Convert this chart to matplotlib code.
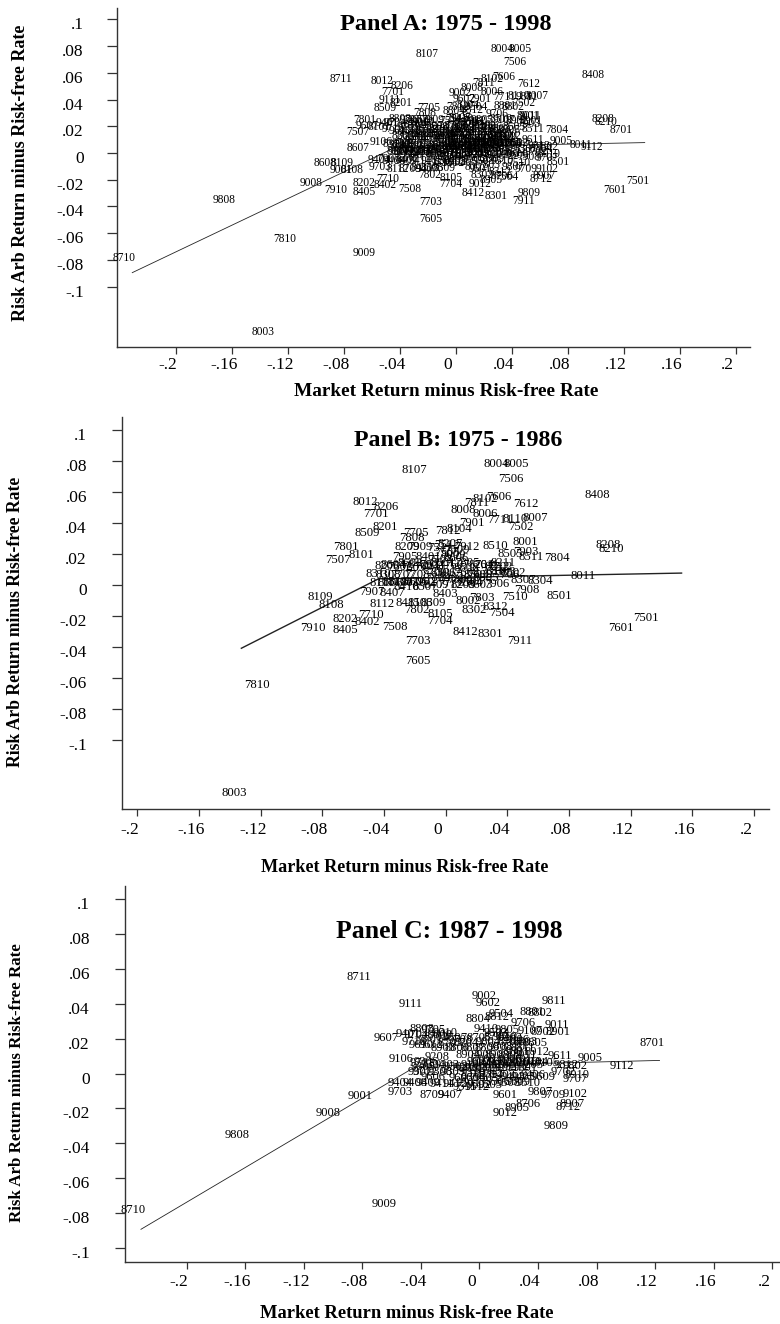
import matplotlib
matplotlib.use('Agg')
import matplotlib.pyplot as plt
from matplotlib.transforms import ScaledTranslation

plt.rcParams['font.family'] = ['Liberation Serif', 'DejaVu Serif']

# month labels and (market, risk arb) excess returns,
# the crowded middle of each cloud is only estimated
months_b = ['8107','8004','8005','7506','8408','8012','8206','7701','7606','8102','7811','7612','8008','8006',
            '7901','7711','8110','8007','7502','8201','8509','7812','8104','7705','7808','8208','8210','7801',
            '8101','7507','8510','8001','7903','8505','8511','7804','7912','8209','7909','8207','7905','8401',
            '8009','8205','8211','8011','8304','8501','7510','7908','7906','8307','8403','8002','7803','8302',
            '8312','7504','7802','8105','7704','8412','8301','7911','7703','7605','7810','8003','7601','7501',
            '8109','8108','8112','8202','7710','8402','7910','8405','7508','7907','8407','8411','8506','8309',
            '8310','8111',
            '7503','7505','7509','7511','7512','7602','7603','7604','7607','7608','7609','7610','7611','7702',
            '7706','7707','7708','7709','7712','7805','7806','7807','7809','7902','7904','8010','8103','8106',
            '8203','8204','8212','8303','8305','8306','8308','8311','8404','8406','8409','8410','8502','8503',
            '8504','8507','8508','8512','8601','8602','8603','8604','8605','8606']
x_b = [-.0203,.0331,.046,.0422,.0984,-.0523,-.0383,-.0452,.0342,.0259,.0201,.0519,.0115,.0259,
       .0169,.0352,.045,.0584,.0489,-.0393,-.0506,.0017,.0089,-.0195,-.022,.1055,.1072,-.0649,
       -.0549,-.0696,.0324,.0519,.0521,.0417,.0553,.072,.0136,-.0253,-.0166,.0028,-.0264,-.0112,
       .005,-.0378,.0374,.0893,.0612,.0735,.045,.0525,.0331,.0504,-.0004,.0147,.0233,.0186,
       .032,.0363,-.0184,-.0032,-.0037,.0125,.0288,.0482,-.0177,-.0179,-.1223,-.1372,.1134,.13,
       -.0811,-.0739,-.0415,-.0653,-.0486,-.0506,-.0858,-.0653,-.0329,-.048,-.0344,-.0242,-.0166,-.008,
       -.0437,-.0415,
       -.0037,.0006,.0071,-.0037,.0006,-.0296,-.021,-.0123,.0071,.0136,.0223,.0309,.0266,.0352,
       .0396,-.0275,-.0188,-.008,.0028,.0136,.0093,.0179,-.0048,-.0145,-.0091,-.021,-.0296,-.0361,
       .0115,.0233,.0331,.0374,.0266,-.0015,-.0372,-.0329,.0039,-.0166,-.0058,-.0253,.0439,.0201,
       .0158,-.0134,.0136,.0028,-.0015,-.0231,.0223,-.0339,-.0188,.0071]
y_b = [.0742,.0778,.0778,.0682,.0581,.0538,.0501,.0458,.057,.0555,.0527,.052,.0484,.0456,
       .0402,.0419,.0426,.043,.0372,.0376,.0338,.0348,.0359,.0338,.0301,.0258,.0232,.0247,
       .0194,.0161,.0254,.0275,.0215,.0198,.0178,.0172,.0243,.0247,.0247,.0265,.0183,.0183,
       .0194,.0125,.014,.0058,.0028,-.0069,-.0075,-.0032,.0006,.0032,-.0058,-.0101,-.0086,-.0161,
       -.014,-.0183,-.0161,-.0187,-.023,-.0301,-.0318,-.0359,-.0363,-.049,-.0645,-.134,-.0275,-.0213,
       -.0075,-.0129,-.0123,-.0222,-.0194,-.0237,-.028,-.029,-.0269,-.0043,-.0054,-.0114,-.0114,-.0114,
       .0069,.0015,
       .0161,.0204,.0226,.0237,.0258,.0118,.0108,.0118,.0129,.0075,.0065,.0086,.0129,.0118,
       .0065,.0065,.0065,.0075,0,.014,.0032,.0022,.0043,.0022,.0129,.0011,.0022,.0011,
       0,.0129,.0118,.0086,.0043,.0075,.0065,.0022,.0043,.0129,0,-.0011,.0075,.0065,
       .0011,-.0011,.0108,.0097,.014,.014,0,.0129,.0022,.0172]

months_c = ['9002','9602','9111','9811','9504','8804','8812','8801','8802','9706','9011','9410','8901','9107',
            '8902','8808','9607','9010','9401','9507','9710','9106','9208','9005','9611','8701','9112','9812',
            '9802','9703','9404','9001','9008','9808','8710','9009','8711','8709','9407','9601','9012','8905',
            '8706','9807','9709','9102','8907','8712','9809','9707','9609','8910','9702','9503',
            '8702','8703','8704','8705','8707','8708','8803','8805','8806','8807','8809','8810','8811','8903',
            '8904','8906','8908','8909','8911','8912','9003','9004','9006','9007','9101','9103','9104','9105',
            '9108','9109','9110','9201','9203','9204','9205','9206','9207','9209','9210','9211','9212','9301',
            '9302','9303','9304','9305','9306','9307','9308','9309','9310','9311','9312','9402','9403','9405',
            '9406','9408','9409','9411','9412','9501','9502','9505','9506','9508','9509','9510','9511','9512',
            '9603','9604','9605','9606','9608','9610','9612','9701','9704','9705','9708','9711','9712','9801',
            '9803','9804','9805','9806','9810','9202']
x_c = [.0031,.006,-.0468,.0509,.0145,-.0008,.0117,.0356,.0413,.0299,.0532,.0044,.0538,.0345,
       .0436,-.0395,-.0634,-.0236,-.0486,-.0167,-.0447,-.0536,-.0288,.0755,.055,.1178,.0971,.0595,
       .0652,-.0543,-.0543,-.0816,-.1033,-.1656,-.2365,-.0652,-.0823,-.0327,-.0201,.0174,.0174,.0254,
       .0334,.0413,.0504,.0652,.063,.0607,.0527,.0652,.0436,.0664,.0573,.0117,
       -.0293,-.0201,-.0088,-.0003,.0117,.0208,.0311,.0379,-.0156,-.0042,.0049,.0231,.0299,-.0247,
       -.0076,.0026,.0117,.0208,.0311,.039,-.0003,.0072,.014,.0208,.0277,.0334,.039,.0459,
       -.0042,.0026,.0094,.0163,.0231,.0299,.0356,-.0088,-.0019,.0049,.0117,.0186,.0254,.0311,
       -.0156,-.0224,-.0315,-.0384,-.0361,-.0406,-.027,-.0179,-.0042,.0015,.0083,.0163,.0231,.0299,
       .0368,-.044,-.035,-.0258,-.0167,-.0076,-.0003,.0072,.0129,.0197,.0265,.0334,-.0099,-.0019,
       -.0122,-.0042,.0049,-.0315,-.027,-.0395,-.0327,-.0338,-.0429,-.0315,-.0133,-.0395,-.0372,.0254,
       .014,.006,.0186,.0254,.0174,.0208]
y_c = [.0447,.0403,.0399,.0416,.0342,.0311,.0322,.0351,.0345,.0292,.0278,.0256,.0236,.0246,
       .024,.0255,.0202,.0234,.0225,.0202,.0179,.0081,.0093,.0087,.01,.0175,.0043,.0049,
       .0043,-.0108,-.0053,-.0127,-.0228,-.0353,-.0784,-.0749,.0554,-.0123,-.0123,-.0123,-.0229,-.02,
       -.0175,-.0104,-.0123,-.012,-.0175,-.0194,-.0299,-.0034,-.0018,-.0009,.001,.0234,
       .0211,.0173,.0173,.0202,.0211,.0183,.0183,.0173,.0144,.0144,.0144,.0154,.0144,.0144,
       .0106,.0106,.0106,.0106,.0106,.0125,.0068,.0077,.0068,.0077,.0077,.0068,.0068,.0058,
       .0049,.0058,.0049,.0049,.0058,.0058,.0049,.003,.003,.0024,.003,.003,.0035,.003,
       .0039,.0049,.0049,.0039,.0068,.0011,.0011,.0011,.0001,-.0005,-.0005,-.0009,-.0018,-.0018,
       -.0009,-.0056,-.0056,-.006,-.006,-.0056,-.0066,-.0066,-.0047,-.0056,-.0047,-.0056,-.0076,-.0076,
       -.0028,-.0028,-.0028,-.0018,.0221,.0164,.0164,.0192,.0221,.025,.0192,.0058,.0011,.0125,
       .0154,.0183,.025,.0192,.0211,.0202]

# shown in panel A only
months_extra = ['8607','8608','8609','8610','8611','8612']
x_extra = [-.0698,-.0934,-.012,.018,.043,.004]
y_extra = [.0037,-.0072,.006,.008,0,.013]

line_a_x = [-.231,-.0435,.135]
line_a_y = [-.0895,.004,.0078]
line_b_x = [-.1325,-.0435,.153]
line_b_y = [-.0408,.004,.0077]
line_c_x = [-.2312,-.0435,.123]
line_c_y = [-.0894,.004,.0075]

x_ticks = [-.2,-.16,-.12,-.08,-.04,0,.04,.08,.12,.16,.2]
x_tick_labels = ['-.2','-.16','-.12','-.08','-.04','0','.04','.08','.12','.16','.2']
y_ticks = [.1,.08,.06,.04,.02,0,-.02,-.04,-.06,-.08,-.1]
y_tick_labels = ['.1','.08','.06','.04','.02','0','-.02','-.04','-.06','-.08','-.1']

W, H = 780, 1324
fig = plt.figure(figsize=(W/100, H/100), dpi=100)


def panel(left, right, top, bottom, xlim, ylim, months, xs, ys, lx, ly, lw, lab_size, pad_y, pad_x):
    ax = fig.add_axes([left/W, 1-bottom/H, (right-left)/W, (bottom-top)/H])
    ax.set_xlim(xlim)
    ax.set_ylim(ylim)
    ax.spines['top'].set_visible(False)
    ax.spines['right'].set_visible(False)
    ax.spines['left'].set_color('#333333')
    ax.spines['bottom'].set_color('#333333')
    ax.spines['left'].set_linewidth(1.0)
    ax.spines['bottom'].set_linewidth(1.0)
    ax.plot(lx, ly, color='#222222', lw=lw, zorder=1)
    for m, x, y in zip(months, xs, ys):
        ax.text(x, y, m, fontsize=lab_size, ha='center', va='center', color='black')
    ax.set_xticks(x_ticks)
    ax.set_xticklabels(x_tick_labels, fontsize=12.5)
    ax.set_yticks(y_ticks)
    ax.set_yticklabels(y_tick_labels, fontsize=12.5)
    ax.tick_params(axis='x', length=5, width=0.9, color='#333333', pad=pad_x)
    ax.tick_params(axis='y', length=7, width=0.9, color='#333333', pad=pad_y)
    # the tick labels sit a bit off their ticks in the original
    for lab in ax.get_xticklabels():
        lab.set_transform(lab.get_transform() + ScaledTranslation(-8/100, 0, fig.dpi_scale_trans))
    for lab in ax.get_yticklabels():
        lab.set_transform(lab.get_transform() + ScaledTranslation(0, -4/100, fig.dpi_scale_trans))
    return ax


panel(117, 750, 8, 346.7, (-.2419, .2102), (-.1449, .1085),
      months_b + months_c + months_extra, x_b + x_c + x_extra, y_b + y_c + y_extra,
      line_a_x, line_a_y, 0.6, 8.3, 17, 2.5)
panel(121.7, 769, 417, 809.3, (-.2101, .2097), (-.1447, .1084),
      months_b, x_b, y_b, line_b_x, line_b_y, 1.0, 9.2, 18, 4)
panel(125.3, 780, 886, 1261.7, (-.2419, .2053), (-.108, .1076),
      months_c, x_c, y_c, line_c_x, line_c_y, 0.6, 9.0, 18.5, 4)


def label(px, py, s, size, rot=0):
    fig.text(px/W, 1-py/H, s, fontsize=size, fontweight='bold', ha='center', va='center', rotation=rot)


label(446, 24, 'Panel A: 1975 - 1998', 17.5)
label(458, 440, 'Panel B: 1975 - 1986', 17.2)
label(449, 932, 'Panel C: 1987 - 1998', 18.5)
label(446, 392, 'Market Return minus Risk-free Rate', 13.9)
label(405, 867, 'Market Return minus Risk-free Rate', 13.1)
label(407, 1313, 'Market Return minus Risk-free Rate', 13.35)
label(21, 173, 'Risk Arb Return minus Risk-free Rate', 13, 90)
label(16, 622, 'Risk Arb Return minus Risk-free Rate', 12.7, 90)
label(17, 1083, 'Risk Arb Return minus Risk-free Rate', 12.2, 90)

fig.savefig('out.png', dpi=100)
